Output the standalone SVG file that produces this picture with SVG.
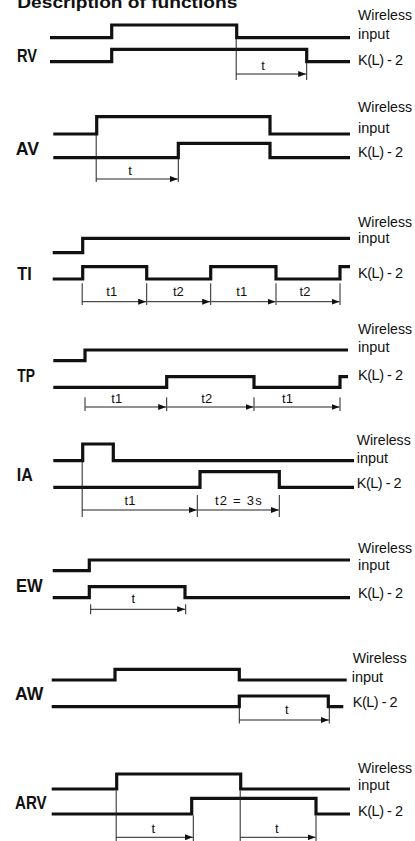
<svg xmlns="http://www.w3.org/2000/svg" width="415" height="841" viewBox="0 0 415 841">
<style>
.sig{fill:none;stroke:#111;stroke-width:3.2;stroke-linejoin:miter;stroke-linecap:butt}
.dim{fill:none;stroke:#222;stroke-width:1}
.arr{fill:none;stroke:#222;stroke-width:1;marker-end:url(#ah)}
.lbl{font-family:"Liberation Sans",Arial,sans-serif;font-weight:bold;font-size:18px;fill:#111}
.io{font-family:"Liberation Sans",Arial,sans-serif;font-size:14.5px;fill:#111}
.t{font-family:"Liberation Sans",Arial,sans-serif;font-size:13px;fill:#111;text-anchor:middle}
.title{font-family:"Liberation Sans",Arial,sans-serif;font-weight:bold;font-size:17px;fill:#111}
</style>
<defs>
<marker id="ah" markerUnits="userSpaceOnUse" markerWidth="8" markerHeight="6" refX="8" refY="3" orient="auto">
<path d="M0,0 L8,3 L0,6 z" fill="#111"/>
</marker>
</defs>
<text class="title" x="17.3" y="8" textLength="220" lengthAdjust="spacingAndGlyphs">Description of functions</text>

<g id="RV">
<text class="lbl" x="17" y="62" textLength="20" lengthAdjust="spacingAndGlyphs">RV</text>
<path class="sig" d="M50,37.7 H111.7 V25 H236.7 V37.7 H350"/>
<path class="sig" d="M50,61.7 H111.7 V49.3 H306.7 V61.7 H350"/>
<text class="io" x="358" y="20" textLength="54" lengthAdjust="spacingAndGlyphs">Wireless</text>
<text class="io" x="358" y="39">input</text>
<text class="io" x="358" y="64.5" textLength="45" lengthAdjust="spacing">K(L) - 2</text>
<text class="t" x="263" y="70">t</text>
</g>

<g id="AV">
<text class="lbl" x="15.7" y="155" textLength="23.3" lengthAdjust="spacingAndGlyphs">AV</text>
<path class="sig" d="M53.3,134 H96.7 V116.7 H270 V134 H350"/>
<path class="sig" d="M53.3,157.7 H178.3 V143.3 H270 V157.7 H350"/>
<text class="io" x="358" y="111.7" textLength="54" lengthAdjust="spacingAndGlyphs">Wireless</text>
<text class="io" x="358" y="133.3">input</text>
<text class="io" x="358" y="156.7" textLength="45" lengthAdjust="spacing">K(L) - 2</text>
<text class="t" x="130" y="175">t</text>
</g>

<g id="TI">
<text class="lbl" x="17.3" y="280" textLength="14.4" lengthAdjust="spacingAndGlyphs">TI</text>
<path class="sig" d="M52.7,252.7 H82.7 V238.3 H350"/>
<path class="sig" d="M52.7,279 H82.7 V266.7 H146.7 V279 H210.7 V266.7 H276 V279 H340 V266.7 H350"/>
<text class="io" x="358" y="226.7" textLength="54" lengthAdjust="spacingAndGlyphs">Wireless</text>
<text class="io" x="358" y="243.3">input</text>
<text class="io" x="358" y="278" textLength="45" lengthAdjust="spacing">K(L) - 2</text>
<text class="t" x="111.7" y="296">t1</text>
<text class="t" x="178.3" y="296">t2</text>
<text class="t" x="241.7" y="296">t1</text>
<text class="t" x="305" y="296">t2</text>
</g>

<g id="TP">
<text class="lbl" x="17.3" y="381.7" textLength="17.7" lengthAdjust="spacingAndGlyphs">TP</text>
<path class="sig" d="M53.3,360.7 H85 V350 H348"/>
<path class="sig" d="M53.3,387.3 H166.7 V376.7 H254 V387.3 H340 V376.7 H348"/>
<text class="io" x="358" y="334" textLength="54" lengthAdjust="spacingAndGlyphs">Wireless</text>
<text class="io" x="358" y="351.7">input</text>
<text class="io" x="358" y="380" textLength="45" lengthAdjust="spacing">K(L) - 2</text>
<text class="t" x="116.7" y="403">t1</text>
<text class="t" x="206.7" y="403">t2</text>
<text class="t" x="287.5" y="403">t1</text>
</g>

<g id="IA">
<text class="lbl" x="16.7" y="481" textLength="16" lengthAdjust="spacingAndGlyphs">IA</text>
<path class="sig" d="M53.3,460.7 H82.7 V444 H113.3 V460.7 H354"/>
<path class="sig" d="M53.3,487.3 H200 V471.7 H279.3 V487.3 H354"/>
<text class="io" x="356.7" y="445" textLength="54" lengthAdjust="spacingAndGlyphs">Wireless</text>
<text class="io" x="356.7" y="463.3">input</text>
<text class="io" x="356.7" y="488.3" textLength="45" lengthAdjust="spacing">K(L) - 2</text>
<text class="t" x="130" y="505">t1</text>
<text class="t" x="238.3" y="505" textLength="46.7" lengthAdjust="spacing">t2 = 3s</text>
</g>

<g id="EW">
<text class="lbl" x="16" y="592" textLength="26.7" lengthAdjust="spacingAndGlyphs">EW</text>
<path class="sig" d="M52.7,570.7 H89.3 V560 H350"/>
<path class="sig" d="M52.7,597.7 H89.3 V586.7 H185 V597.7 H350"/>
<text class="io" x="358" y="553.3" textLength="54" lengthAdjust="spacingAndGlyphs">Wireless</text>
<text class="io" x="358" y="570">input</text>
<text class="io" x="358" y="598.3" textLength="45" lengthAdjust="spacing">K(L) - 2</text>
<text class="t" x="133.3" y="603.3">t</text>
</g>

<g id="AW">
<text class="lbl" x="15" y="700" textLength="28.3" lengthAdjust="spacingAndGlyphs">AW</text>
<path class="sig" d="M51.7,680 H115 V669.3 H239.3 V680 H346.7"/>
<path class="sig" d="M51.7,706.7 H239.3 V696 H328.3 V706.7 H343.3"/>
<text class="io" x="352.7" y="663.3" textLength="54" lengthAdjust="spacingAndGlyphs">Wireless</text>
<text class="io" x="351.7" y="681.7">input</text>
<text class="io" x="352.7" y="707" textLength="45" lengthAdjust="spacing">K(L) - 2</text>
<text class="t" x="286.7" y="714">t</text>
</g>

<g id="ARV">
<text class="lbl" x="15" y="809.3" textLength="31.7" lengthAdjust="spacingAndGlyphs">ARV</text>
<path class="sig" d="M51.7,789 H116.7 V774 H240.7 V789 H350"/>
<path class="sig" d="M51.7,814 H191.7 V798.3 H316 V814 H350"/>
<text class="io" x="358" y="773.3" textLength="54" lengthAdjust="spacingAndGlyphs">Wireless</text>
<text class="io" x="358" y="790">input</text>
<text class="io" x="358" y="816" textLength="45" lengthAdjust="spacing">K(L) - 2</text>
<text class="t" x="153.3" y="833">t</text>
<text class="t" x="276.7" y="833">t</text>
</g>

<g id="connectors">
<path class="dim" d="M236.2,38 V80 M306.7,63 V80"/>
<path class="arr" d="M236.2,74 H306.2"/>
<path class="dim" d="M96.2,135 V182 M178.3,159 V182"/>
<path class="arr" d="M96.2,179 H177.8"/>
<path class="dim" d="M82.2,283.3 V305 M146.7,283.3 V305 M210.7,283.3 V305 M276,283.3 V305 M340,283.3 V305"/>
<path class="arr" d="M82.2,301.7 H146.2"/>
<path class="arr" d="M147.2,301.7 H210.2"/>
<path class="arr" d="M211.2,301.7 H275.5"/>
<path class="arr" d="M276.5,301.7 H339.5"/>
<path class="dim" d="M85,397.3 V411 M166.7,397.3 V411 M254,397.3 V411 M340,397.3 V411"/>
<path class="arr" d="M85.5,407 H166.2"/>
<path class="arr" d="M167.2,407 H253.5"/>
<path class="arr" d="M254.5,407 H339.5"/>
<path class="dim" d="M82.2,462 V517 M197.3,495 V517 M279.3,495 V517"/>
<path class="arr" d="M82.2,510 H196.8"/>
<path class="arr" d="M197.8,510 H278.8"/>
<path class="dim" d="M90.7,604.3 V614.3 M185.7,604.3 V614.3"/>
<path class="arr" d="M90.7,609.3 H185.2"/>
<path class="dim" d="M239.3,708 V723.5 M329.3,708 V723.5"/>
<path class="arr" d="M239.3,720 H328.8"/>
<path class="dim" d="M116.2,790.5 V841 M193.3,815.5 V841 M240.2,790.5 V841 M316,815.5 V841"/>
<path class="arr" d="M116.2,837.3 H192.8"/>
<path class="arr" d="M240.2,837.3 H315.5"/>
</g>
</svg>
